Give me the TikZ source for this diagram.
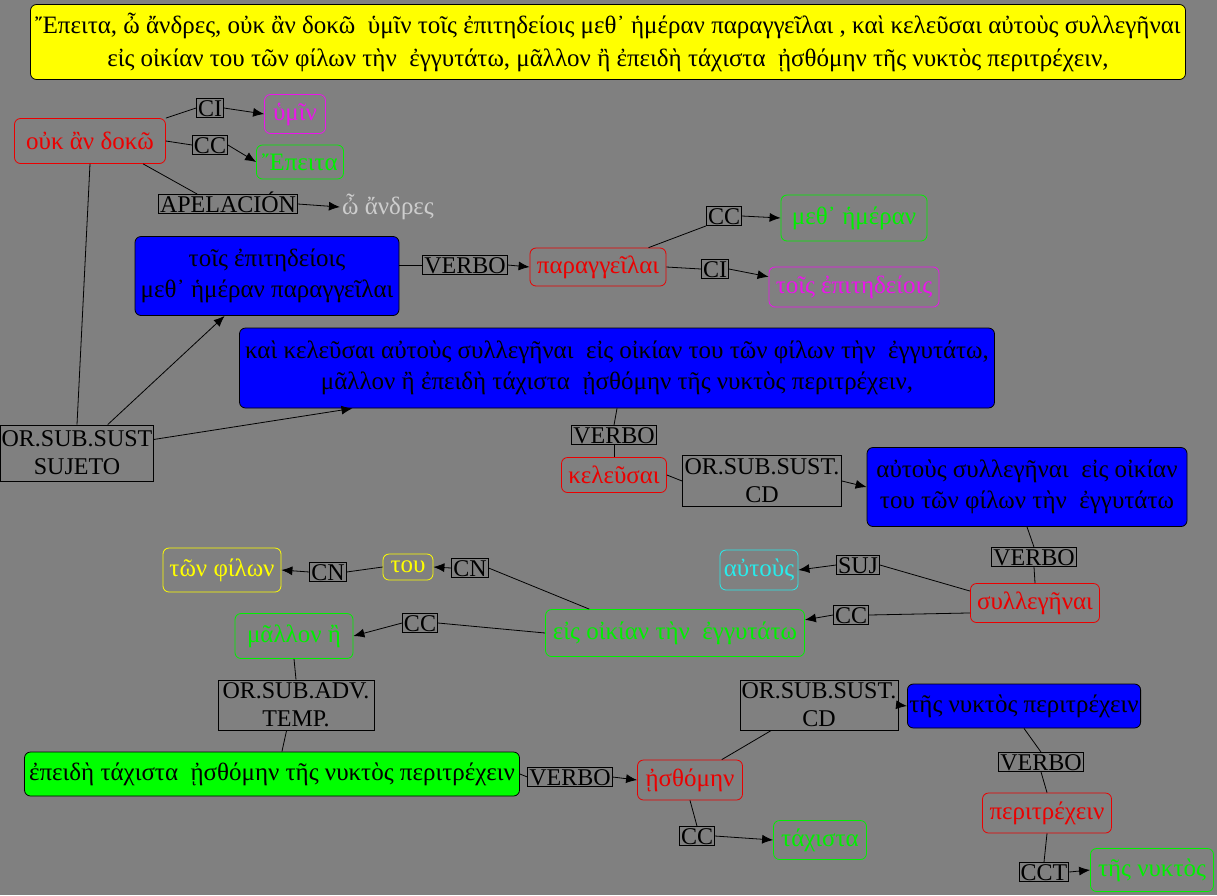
\documentclass[tikz,border=0pt]{standalone}
\usepackage{fontspec}
\setmainfont{Liberation Serif}
\usetikzlibrary{arrows.meta,calc}
\definecolor{bg}{RGB}{128,128,128}
\definecolor{wred}{RGB}{235,0,0}
\definecolor{wmag}{RGB}{235,20,235}
\definecolor{wgreen}{RGB}{0,240,0}
\definecolor{wyel}{RGB}{255,255,0}
\definecolor{wcyan}{RGB}{40,235,235}
\definecolor{wgray}{RGB}{205,205,205}
\definecolor{bfill}{RGB}{0,0,255}
\definecolor{gfillc}{RGB}{0,255,0}
\tikzset{
  word/.style={draw=#1,text=#1,rounded corners=6pt,line width=0.8pt,inner sep=2pt,font=\fontsize{25}{30}\selectfont},
  blk/.style={draw=black,fill=#1,rounded corners=6pt,line width=0.8pt,text=black,align=center,inner sep=2pt,font=\fontsize{25}{31}\selectfont},
  lab/.style={draw=black,line width=0.8pt,inner xsep=1.5pt,inner ysep=1.5pt,text height=16pt,text depth=0pt,text=black,font=\fontsize{24}{28}\selectfont},
  lab2/.style={draw=black,line width=0.8pt,inner sep=1pt,align=center,text=black,font=\fontsize{24}{28}\selectfont},
  wh/.style 2 args={minimum width=#1pt,minimum height=#2pt},
  con/.style={line width=0.8pt,draw=black},
  arr/.style={con,-{Latex[length=11pt,width=9pt]}}
}
\begin{document}
\begin{tikzpicture}[x=1pt,y=-1pt]
\fill[bg] (0,0) rectangle (1217,895);
\useasboundingbox (0,0) rectangle (1217,895);

% nodes
\node[blk=wyel,wh={1155}{75},font=\fontsize{25}{33}\selectfont] (top) at (608,42)
  {Ἔπειτα, ὦ ἄνδρες, οὐκ ἂν δοκῶ\ \ ὑμῖν τοῖς ἐπιτηδείοις μεθ᾽ ἡμέραν παραγγεῖλαι , καὶ κελεῦσαι αὐτοὺς συλλεγῆναι\\
   εἰς οἰκίαν του τῶν φίλων τὴν\ \ ἐγγυτάτω, μᾶλλον ἢ ἐπειδὴ τάχιστα\ \ ᾐσθόμην τῆς νυκτὸς περιτρέχειν,};

\node[word=wred,wh={151}{45}] (okan) at (90,141) {οὐκ ἂν δοκῶ};
\node[lab] (ci) at (210,108) {CI};
\node[word=wmag,wh={61}{39}] (umin) at (295,114) {ὑμῖν};
\node[lab] (cc) at (210,145) {CC};
\node[word=wgreen,wh={87}{34}] (epeita) at (300,162) {Ἔπειτα};
\node[lab] (apel) at (228,204) {APELACIÓN};
\node[text=wgray,font=\fontsize{25}{30}\selectfont,inner sep=2pt] (andres) at (388,207) {ὦ ἄνδρες};
\node[blk=bfill,wh={264}{79}] (blue1) at (267,276) {τοῖς ἐπιτηδείοις\\ μεθ᾽ ἡμέραν παραγγεῖλαι};
\node[lab] (verbo1) at (465,265) {VERBO};
\node[word=wred,wh={136}{38}] (paragg) at (598,267) {παραγγεῖλαι};
\node[lab] (cc2) at (724,216) {CC};
\node[word=wgreen,wh={146}{46}] (meth) at (854,218) {μεθ᾽ ἡμέραν};
\node[lab] (ci2) at (715,269) {CI};
\node[word=wmag,wh={170}{40}] (tois) at (854,287) {τοῖς ἐπιτηδείοις};

\node[blk=bfill,wh={755}{80}] (blue2) at (617,368)
  {καὶ κελεῦσαι αὐτοὺς συλλεγῆναι\ \ εἰς οἰκίαν του τῶν φίλων τὴν\ \ ἐγγυτάτω,\\ μᾶλλον ἢ ἐπειδὴ τάχιστα\ \ ᾐσθόμην τῆς νυκτὸς περιτρέχειν,};
\node[lab2,wh={152}{56}] (suj) at (77,453) {OR.SUB.SUST\\SUJETO};
\node[lab] (verbo2) at (614,435) {VERBO};
\node[word=wred,wh={105}{35}] (kel) at (614,475) {κελεῦσαι};
\node[lab2,wh={159}{51}] (osscd1) at (762,481) {OR.SUB.SUST.\\CD};
\node[blk=bfill,wh={320}{79}] (blue3) at (1027,487) {αὐτοὺς συλλεγῆναι\ \ εἰς οἰκίαν\\ του τῶν φίλων τὴν\ \ ἐγγυτάτω};
\node[lab] (verbo3) at (1034,557) {VERBO};
\node[word=wred,wh={129}{39}] (syll) at (1035,603) {συλλεγῆναι};
\node[lab] (sujl) at (858,565) {SUJ};
\node[word=wcyan,wh={78}{40}] (autous) at (759,570) {αὐτοὺς};
\node[lab] (cc3) at (851,615) {CC};
\node[word=wgreen,wh={259}{47}] (eis) at (675,633) {εἰς οἰκίαν τὴν\ \ ἐγγυτάτω};
\node[word=wyel,wh={118}{44}] (tonf) at (222,570) {τῶν φίλων};
\node[lab] (cn1) at (328,572) {CN};
\node[word=wyel,wh={50}{26},inner sep=1pt] (tou) at (408,567) {του};
\node[lab] (cn2) at (470,568) {CN};
\node[word=wgreen,wh={118}{45}] (mallon) at (294,636) {μᾶλλον ἢ};
\node[lab] (cc4) at (420,623) {CC};
\node[lab2,wh={156}{50}] (ossadv) at (296,705) {OR.SUB.ADV.\\TEMP.};
\node[blk=gfillc,wh={495}{44}] (gfill) at (272,774) {ἐπειδὴ τάχιστα\ \ ᾐσθόμην τῆς νυκτὸς περιτρέχειν};
\node[lab] (verbo4) at (570,777) {VERBO};
\node[word=wred,wh={105}{40}] (hesth) at (690,780) {ᾐσθόμην};
\node[lab2,wh={158}{50}] (osscd2) at (819,705) {OR.SUB.SUST.\\CD};
\node[blk=bfill,wh={213}{44}] (blue4) at (1024,706) {τῆς νυκτὸς περιτρέχειν};
\node[lab] (verbo5) at (1041,762) {VERBO};
\node[word=wred,wh={129}{40}] (peritr) at (1047,813) {περιτρέχειν};
\node[lab] (cc5) at (697,836) {CC};
\node[word=wgreen,wh={93}{39}] (taxista) at (820,840) {τάχιστα};
\node[lab] (cct) at (1044,872) {CCT};
\node[word=wgreen,wh={123}{43}] (tesn) at (1152,870) {τῆς νυκτὸς};

% connectors
\draw[con] (okan.north east) -- (ci.west);
\draw[arr] (ci.east) -- (umin.west);
\draw[con] (okan.east) -- (cc.west);
\draw[arr] (cc.east) -- (epeita.west);
\draw[con] ($(okan.south)!0.7!(okan.south east)$) -- ($(apel.north west)!0.28!(apel.north east)$);
\draw[arr] (apel.east) -- (andres.west);
\draw[con] (okan.south) -- (suj.north);
\draw[arr] ($(suj.north)!0.4!(suj.north east)$) -- ($(blue1.south west)!0.34!(blue1.south east)$);
\draw[arr] (suj.10) -- ($(blue2.south west)!0.15!(blue2.south east)$);
\draw[con] (blue1.east |- verbo1.west) -- (verbo1.west);
\draw[arr] (verbo1.east) -- (paragg.west);
\draw[con] ($(paragg.north west)!0.87!(paragg.north east)$) -- (cc2.south west);
\draw[arr] (cc2.east) -- (meth.west);
\draw[con] (paragg.east) -- (ci2.west);
\draw[arr] (ci2.east) -- ($(tois.west)!0.5!(tois.north west)$);
\draw[con] (blue2.south) -- (verbo2.north);
\draw[con] (verbo2.south) -- (kel.north);
\draw[con] (kel.east) -- (osscd1.west);
\draw[arr] (osscd1.east) -- (blue3.west);
\draw[con] (blue3.south) -- (verbo3.north);
\draw[con] (verbo3.south) -- (syll.north);
\draw[con] ($(syll.west)!0.6!(syll.north west)$) -- (sujl.east);
\draw[arr] (sujl.west) -- (autous.east);
\draw[con] ($(syll.west)!0.5!(syll.south west)$) -- (cc3.east);
\draw[arr] (cc3.west) -- ($(eis.east)!0.55!(eis.north east)$);
\draw[con] ($(eis.north west)!0.17!(eis.north east)$) -- (cn2.east);
\draw[arr] (cn2.west) -- (tou.east);
\draw[con] (tou.west) -- (cn1.east);
\draw[arr] (cn1.west) -- (tonf.east);
\draw[con] (eis.west) -- (cc4.east);
\draw[arr] (cc4.west) -- (mallon.east);
\draw[con] (mallon.south) -- (ossadv.north);
\draw[con] ($(ossadv.south)!0.12!(ossadv.south west)$) -- ($(gfill.north)!0.04!(gfill.north east)$);
\draw[con] (gfill.east) -- (verbo4.west);
\draw[arr] (verbo4.east) -- (hesth.west);
\draw[con] ($(hesth.north)!0.6!(hesth.north east)$) -- ($(osscd2.south west)!0.2!(osscd2.south east)$);
\draw[arr] (osscd2.east) -- (blue4.west);
\draw[con] (blue4.south) -- (verbo5.north);
\draw[con] (verbo5.south) -- (peritr.north);
\draw[con] (peritr.south) -- (cct.north);
\draw[arr] (cct.east) -- (tesn.west);
\draw[con] (hesth.south) -- (cc5.north);
\draw[arr] (cc5.east) -- (taxista.west);
\end{tikzpicture}
\end{document}
